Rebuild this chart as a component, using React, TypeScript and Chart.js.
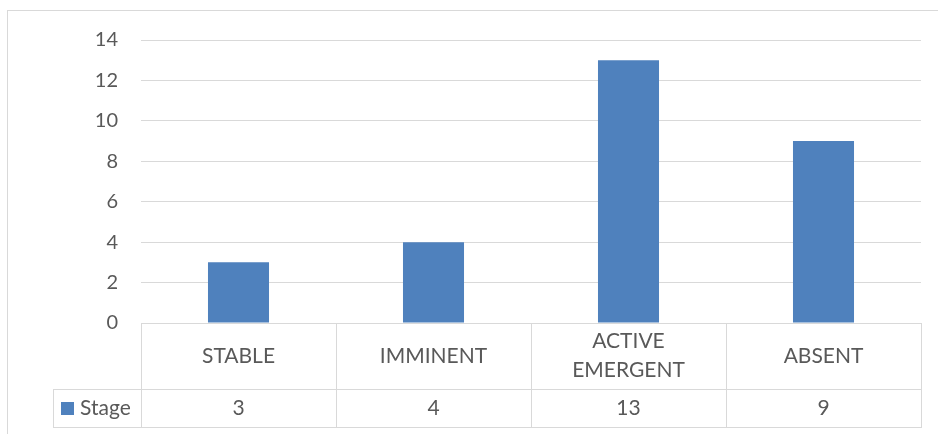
import React, { useEffect, useRef } from "react";
import { Chart, registerables } from "chart.js";

Chart.register(...registerables);

// Number of cases per stage
const categories: string[][] = [["STABLE"], ["IMMINENT"], ["ACTIVE", "EMERGENT"], ["ABSENT"]];
const seriesName = "Stage";
const stageValues: number[] = [3, 4, 13, 9];
const yTicks: number[] = [0, 2, 4, 6, 8, 10, 12, 14];

const FONT = "Lato";
const TEXT = "#595959";
const LINE = "#d9d9d9";
const BAR = "#4f81bd";

// Outer chart-area frame and white background
const framePlugin = {
  id: "frame",
  beforeDraw(chart: any) {
    const { ctx, width, height } = chart;
    ctx.save();
    ctx.fillStyle = "#ffffff";
    ctx.fillRect(0, 0, width, height);
    ctx.strokeStyle = LINE;
    ctx.lineWidth = 1;
    ctx.strokeRect(7.5, 10.5, width + 20, height + 20);
    ctx.restore();
  },
};

// Data table under the plot: category headers, legend key and values
const tablePlugin = {
  id: "dataTable",
  afterDraw(chart: any) {
    const { ctx, chartArea } = chart;
    const { left, right, bottom } = chartArea;
    const n = categories.length;
    const cw = (right - left) / n;
    const headerBottom = bottom + 66;
    const tableBottom = bottom + 104;
    const keyLeft = 53;

    ctx.save();
    ctx.strokeStyle = LINE;
    ctx.lineWidth = 1;
    ctx.beginPath();
    // horizontal rules
    ctx.moveTo(left, bottom + 0.5);
    ctx.lineTo(right, bottom + 0.5);
    ctx.moveTo(keyLeft, headerBottom + 0.5);
    ctx.lineTo(right, headerBottom + 0.5);
    ctx.moveTo(keyLeft, tableBottom + 0.5);
    ctx.lineTo(right, tableBottom + 0.5);
    // vertical rules
    for (let i = 0; i <= n; i++) {
      const x = Math.round(left + i * cw) + 0.5;
      ctx.moveTo(x, bottom);
      ctx.lineTo(x, tableBottom + 1);
    }
    ctx.moveTo(keyLeft + 0.5, headerBottom);
    ctx.lineTo(keyLeft + 0.5, tableBottom + 1);
    ctx.stroke();

    ctx.fillStyle = TEXT;
    ctx.font = `21px ${FONT}`;
    ctx.textAlign = "center";
    ctx.textBaseline = "middle";
    const headerMid = (bottom + headerBottom) / 2;
    const rowMid = (headerBottom + tableBottom) / 2;
    const xScale = chart.scales.x;
    categories.forEach((lines, i) => {
      const cx = xScale.getPixelForValue(i);
      const pitch = 29;
      const y0 = headerMid - ((lines.length - 1) * pitch) / 2;
      lines.forEach((t, j) => ctx.fillText(t, cx, y0 + j * pitch));
      ctx.fillText(String(stageValues[i]), cx, rowMid);
    });

    // legend key
    ctx.fillStyle = BAR;
    ctx.fillRect(keyLeft + 8, rowMid - 6, 13, 13);
    ctx.fillStyle = TEXT;
    ctx.textAlign = "left";
    ctx.fillText(seriesName, keyLeft + 27, rowMid);
    ctx.restore();
  },
};

export default function App() {
  const canvasRef = useRef<HTMLCanvasElement | null>(null);

  useEffect(() => {
    let chart: Chart | null = null;
    let cancelled = false;
    const build = () => {
      if (cancelled || !canvasRef.current) return;
      chart = new Chart(canvasRef.current, {
        type: "bar",
        data: {
          labels: categories.map((c) => c.join(" ")),
          datasets: [
            {
              label: seriesName,
              data: stageValues,
              backgroundColor: BAR,
              barPercentage: 0.313,
              categoryPercentage: 1,
            },
          ],
        },
        options: {
          responsive: false,
          animation: false,
          layout: { padding: { left: 0, right: 17, top: 40, bottom: 111 } },
          plugins: { legend: { display: false }, tooltip: { enabled: false } },
          scales: {
            x: { display: false },
            y: {
              min: yTicks[0],
              max: yTicks[yTicks.length - 1],
              afterBuildTicks: (s: any) => {
                s.ticks = yTicks.map((v) => ({ value: v }));
              },
              afterFit: (s: any) => {
                s.width = 141;
              },
              ticks: { color: TEXT, font: { family: FONT, size: 20 }, padding: 23 },
              grid: { color: LINE, lineWidth: 1, drawTicks: false },
              border: { display: false },
            },
          },
        },
        plugins: [framePlugin, tablePlugin],
      });
    };
    if ((document as any).fonts && (document as any).fonts.load) {
      Promise.all([
        (document as any).fonts.load(`20px ${FONT}`),
        (document as any).fonts.load(`21px ${FONT}`),
      ]).then(build, build);
    } else {
      build();
    }
    return () => {
      cancelled = true;
      if (chart) chart.destroy();
    };
  }, []);

  return (
    <div style={{ position: "absolute", left: 0, top: 0, width: 938, height: 434, background: "#fff" }}>
      <canvas ref={canvasRef} width={938} height={434} style={{ display: "block" }} />
    </div>
  );
}
